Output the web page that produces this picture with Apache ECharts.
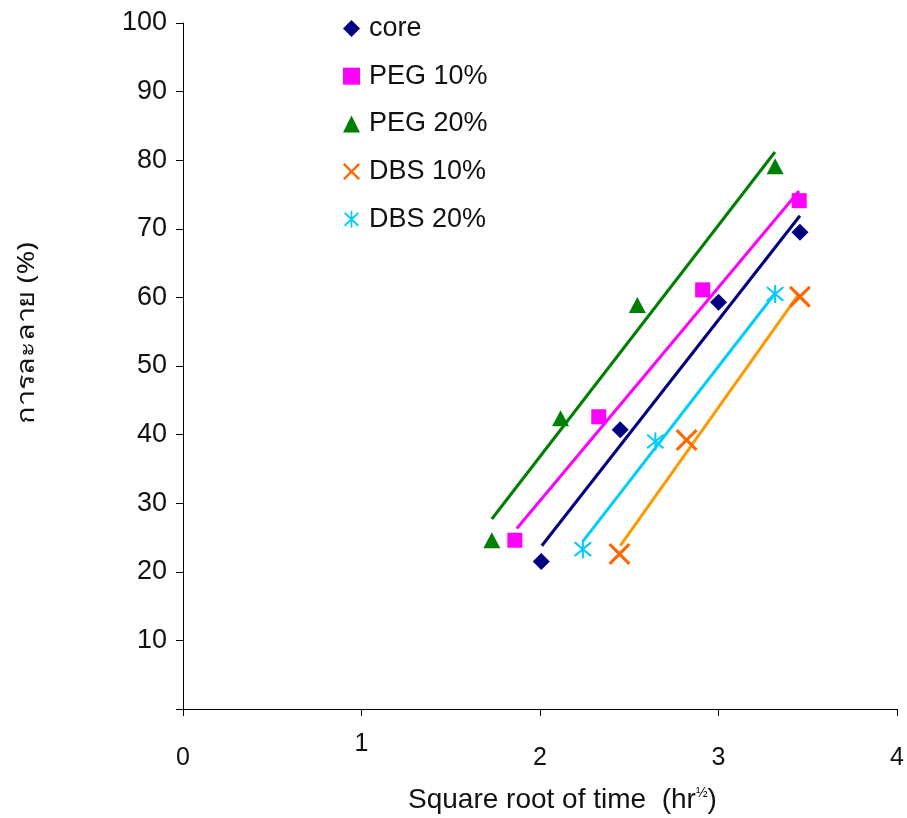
<!DOCTYPE html>
<html><head><meta charset="utf-8">
<script src="https://cdn.jsdelivr.net/npm/echarts@6/dist/echarts.min.js"></script>
<style>html,body{margin:0;padding:0;background:#fff}#c{width:907px;height:818px}</style>
</head><body><div id="c"></div>
<script>
// Data
const seriesNames = ['core', 'PEG 10%', 'PEG 20%', 'DBS 10%', 'DBS 20%'];
const coreX = [2.007, 2.449, 3.0, 3.456];
const coreY = [21.5, 40.7, 59.3, 69.5];
const peg10X = [1.859, 2.329, 2.911, 3.452];
const peg10Y = [24.6, 42.6, 61.1, 74.1];
const peg20X = [1.730, 2.115, 2.545, 3.317];
const peg20Y = [24.6, 42.4, 58.9, 79.1];
const dbs10X = [2.445, 2.821, 3.456];
const dbs10Y = [22.6, 39.2, 60.1];
const dbs20X = [2.240, 2.646, 3.317];
const dbs20Y = [23.3, 39.0, 60.5];
// Trendline endpoints
const coreTrendX = [2.010, 3.456];
const coreTrendY = [23.8, 71.9];
const peg10TrendX = [1.870, 3.451];
const peg10TrendY = [26.3, 75.5];
const peg20TrendX = [1.730, 3.316];
const peg20TrendY = [27.7, 81.2];
const dbs10TrendX = [2.450, 3.451];
const dbs10TrendY = [23.8, 60.5];
const dbs20TrendX = [2.239, 3.314];
const dbs20TrendY = [24.4, 60.5];
const xTicks = [0, 1, 2, 3, 4];
const yTicks = [0, 10, 20, 30, 40, 50, 60, 70, 80, 90, 100];

const zip = (xs, ys) => xs.map((x, i) => [x, ys[i]]);
const xPath = 'path://M0,1 L1,0 L5,4 L9,0 L10,1 L6,5 L10,9 L9,10 L5,6 L1,10 L0,9 L4,5 Z';
const starPath = 'path://M0.6,1.6 L1.4,0.8 L5,4.3 L8.6,0.8 L9.4,1.6 L5.8,5 L9.4,8.4 L8.6,9.2 L5,5.7 L1.4,9.2 L0.6,8.4 L4.2,5 Z M4.5,0 L5.5,0 L5.5,10 L4.5,10 Z';
const FONT = 'Liberation Sans, Arial, Helvetica, sans-serif';

const markerDefs = [
  {name: seriesNames[0], data: zip(coreX, coreY), color: '#000080', symbol: 'diamond', size: [17, 17]},
  {name: seriesNames[1], data: zip(peg10X, peg10Y), color: '#FF00FF', symbol: 'rect', size: [15, 15]},
  {name: seriesNames[2], data: zip(peg20X, peg20Y), color: '#008000', symbol: 'triangle', size: [17, 16]},
  {name: seriesNames[3], data: zip(dbs10X, dbs10Y), color: '#FF6600', symbol: xPath, size: [22, 22]},
  {name: seriesNames[4], data: zip(dbs20X, dbs20Y), color: '#00CCFF', symbol: starPath, size: [18, 18]}
];
const trendDefs = [
  {data: zip(peg20TrendX, peg20TrendY), color: '#008000'},
  {data: zip(peg10TrendX, peg10TrendY), color: '#FF00FF'},
  {data: zip(coreTrendX, coreTrendY), color: '#000080'},
  {data: zip(dbs20TrendX, dbs20TrendY), color: '#00CCFF'},
  {data: zip(dbs10TrendX, dbs10TrendY), color: '#FF9900'}
];

const series = [];
trendDefs.forEach(t => series.push({
  type: 'line', data: t.data, showSymbol: false, symbol: 'none', silent: true,
  lineStyle: {color: t.color, width: 3}, z: 2
}));
markerDefs.forEach(m => series.push({
  type: 'scatter', name: m.name, data: m.data, symbol: m.symbol, symbolSize: m.size,
  itemStyle: {color: m.color, opacity: 1}, z: 3
}));

const chart = echarts.init(document.getElementById('c'), null, {renderer: 'canvas'});
chart.setOption({
  animation: false,
  backgroundColor: '#fff',
  grid: {left: 183, right: 9, top: 23, bottom: 109, containLabel: false},
  legend: {
    orient: 'vertical', left: 338, top: 10, itemGap: 20.7,
    itemWidth: 17, itemHeight: 17,
    textStyle: {fontFamily: FONT, fontSize: 27, color: '#111', padding: [0, 0, 0, 4]},
    data: markerDefs.map(m => ({name: m.name, icon: m.symbol}))
  },
  xAxis: {
    type: 'value', min: 0, max: 4, interval: 1,
    splitLine: {show: false},
    axisLine: {onZero: false, lineStyle: {color: '#000', width: 1}},
    axisTick: {show: true, inside: false, length: 7, lineStyle: {color: '#000'}},
    axisLabel: {
      margin: 23, color: '#111', fontFamily: FONT, fontSize: 25,
      formatter: v => (v === 1 ? '{a|' + v + '}' : '{b|' + v + '}'),
      rich: {
        a: {fontFamily: FONT, fontSize: 25, color: '#111'},
        b: {fontFamily: FONT, fontSize: 25, color: '#111', padding: [14, 0, 0, 0]}
      }
    }
  },
  yAxis: {
    type: 'value', min: 0, max: 100, interval: 10,
    splitLine: {show: false},
    axisLine: {onZero: false, lineStyle: {color: '#000', width: 1}},
    axisTick: {show: true, inside: false, length: 7, lineStyle: {color: '#000'}},
    axisLabel: {
      margin: 16, color: '#111', fontFamily: FONT, fontSize: 27,
      formatter: v => (v === 0 ? '' : String(v))
    }
  },
  graphic: [
    {
      type: 'text', left: 15, top: 242, rotation: Math.PI / 2, scaleX: 1.2,
      style: {text: 'การละลาย (%)', font: '24px "Noto Sans", "DejaVu Sans", sans-serif', fill: '#111'}
    },
    {
      type: 'text', left: 408, top: 786,
      style: {
        text: 'Square root of time  (hr{s|½})',
        font: '28px "Liberation Sans", Arial, sans-serif', fill: '#111',
        rich: {s: {fontSize: 14, verticalAlign: 'top', padding: [0, 0, 13, 0], fontFamily: FONT}}
      }
    }
  ],
  series: series
});
</script>
</body></html>
